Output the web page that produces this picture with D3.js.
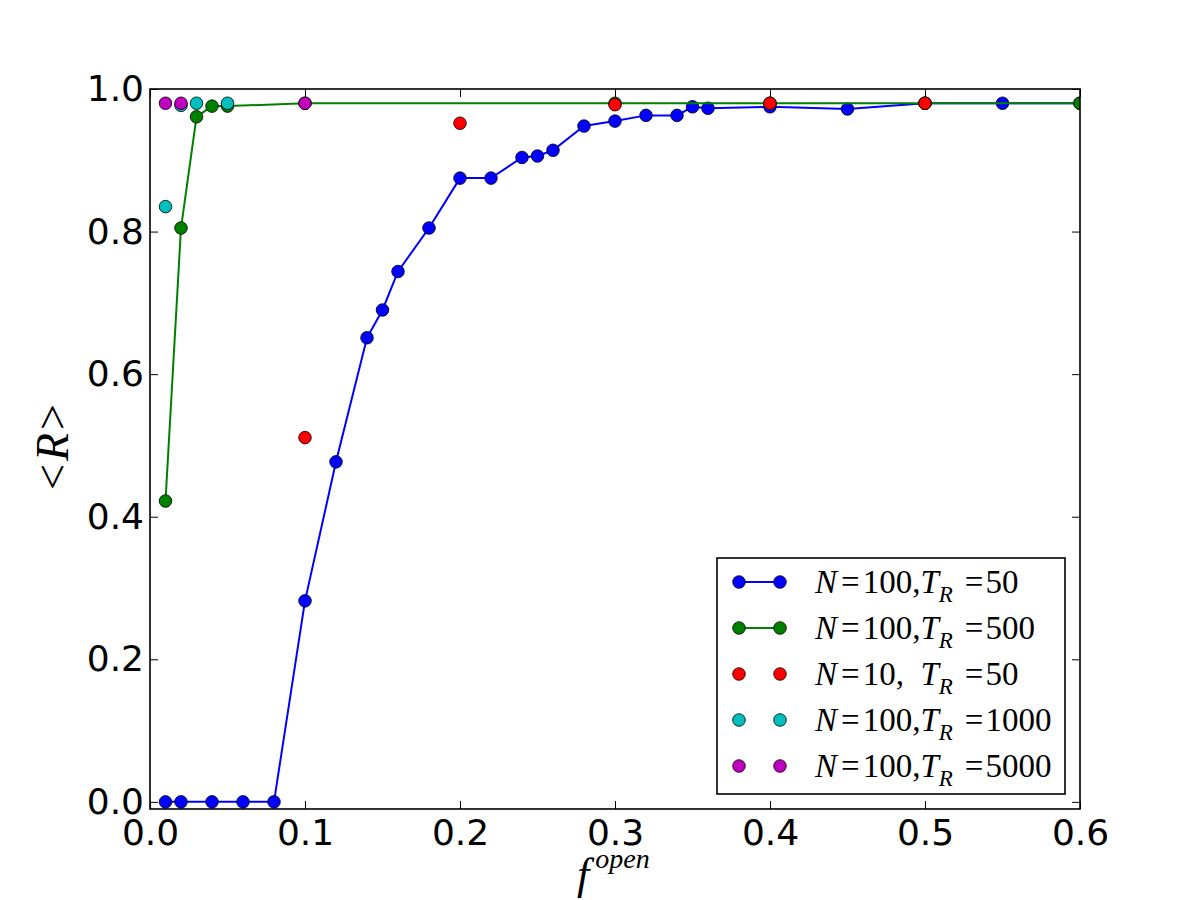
<!DOCTYPE html>
<html>
<head>
<meta charset="utf-8">
<script src="https://cdn.jsdelivr.net/npm/d3@7"></script>
<style>
  body { margin: 0; background: #fff; }
  svg { display: block; }
  .tick-label { font-family: "DejaVu Sans", sans-serif; font-size: 36px; fill: #000; }
  .math { font-family: "Liberation Serif", "DejaVu Serif", serif; fill: #000; }
</style>
</head>
<body>
<div id="chart"></div>
<script>
// values
const blueX = [0.01, 0.02, 0.04, 0.06, 0.08, 0.10, 0.12, 0.14, 0.15, 0.16, 0.18, 0.20, 0.22, 0.24, 0.25, 0.26, 0.28, 0.30, 0.32, 0.34, 0.35, 0.36, 0.40, 0.45, 0.50, 0.55, 0.60];
const blueY = [0.0, 0.0, 0.0, 0.0, 0.0, 0.282, 0.477, 0.651, 0.690, 0.744, 0.805, 0.875, 0.875, 0.904, 0.906, 0.914, 0.948, 0.955, 0.963, 0.963, 0.975, 0.973, 0.975, 0.972, 0.980, 0.980, 0.980];

const greenX = [0.01, 0.02, 0.03, 0.04, 0.05, 0.10, 0.30, 0.40, 0.50, 0.60];
const greenY = [0.422, 0.805, 0.961, 0.976, 0.976, 0.980, 0.980, 0.980, 0.980, 0.980];

const redX = [0.10, 0.20, 0.30, 0.40, 0.50];
const redY = [0.511, 0.952, 0.978, 0.980, 0.980];

const cyanX = [0.01, 0.02, 0.03, 0.05];
const cyanY = [0.835, 0.977, 0.980, 0.980];

const magentaX = [0.01, 0.02, 0.10];
const magentaY = [0.980, 0.980, 0.980];

const xTicks = [0.0, 0.1, 0.2, 0.3, 0.4, 0.5, 0.6];
const yTicks = [0.0, 0.2, 0.4, 0.6, 0.8, 1.0];

// legend text pieces: N value and T_R value per series
const series = [
  {x: blueX, y: blueY, color: "#0000ff", line: true, n: "100,", t: "50"},
  {x: greenX, y: greenY, color: "#008000", line: true, n: "100,", t: "500"},
  {x: redX, y: redY, color: "#ff0000", line: false, n: "10,\u00a0\u00a0", t: "50"},
  {x: cyanX, y: cyanY, color: "#00bfbf", line: false, n: "100,", t: "1000"},
  {x: magentaX, y: magentaY, color: "#bf00bf", line: false, n: "100,", t: "5000"}
];

const margin = {top: 89, right: 120, bottom: 91, left: 150},
    width = 1200 - margin.left - margin.right,
    height = 900 - margin.top - margin.bottom;

const root = d3.select("#chart")
  .append("svg")
    .attr("width", 1200)
    .attr("height", 900);

const svg = root.append("g")
    .attr("transform", `translate(${margin.left}, ${margin.top})`);

const x = d3.scaleLinear().domain([0, 0.6]).range([0, width]);
const y = d3.scaleLinear().domain([-0.01, 1.0]).range([height, 0]);

svg.append("clipPath").attr("id", "plotclip")
  .append("rect").attr("width", width).attr("height", height);

// ticks inside, on all four sides
const tickLen = 8;
const fmt = d3.format(".1f");

svg.append("g")
    .attr("transform", `translate(0,${height})`)
    .call(d3.axisBottom(x).tickValues(xTicks).tickSizeInner(-tickLen).tickSizeOuter(0).tickPadding(10).tickFormat(fmt))
    .call(g => g.select(".domain").remove())
    .call(g => g.selectAll("text").attr("class", "tick-label").attr("font-size", null).attr("font-family", null));

svg.append("g")
    .call(d3.axisTop(x).tickValues(xTicks).tickSizeInner(-tickLen).tickSizeOuter(0).tickFormat(""))
    .call(g => g.select(".domain").remove());

svg.append("g")
    .call(d3.axisLeft(y).tickValues(yTicks).tickSizeInner(-tickLen).tickSizeOuter(0).tickPadding(6).tickFormat(fmt))
    .call(g => g.select(".domain").remove())
    .call(g => g.selectAll("text").attr("class", "tick-label").attr("font-size", null).attr("font-family", null));

svg.append("g")
    .attr("transform", `translate(${width},0)`)
    .call(d3.axisRight(y).tickValues(yTicks).tickSizeInner(-tickLen).tickSizeOuter(0).tickFormat(""))
    .call(g => g.select(".domain").remove());

svg.selectAll(".tick line").attr("stroke", "#000").attr("stroke-width", 1);

// series
const plot = svg.append("g").attr("clip-path", "url(#plotclip)");

series.forEach(s => {
  const pts = s.x.map((v, i) => [v, s.y[i]]);
  if (s.line) {
    plot.append("path")
      .datum(pts)
      .attr("fill", "none")
      .attr("stroke", s.color)
      .attr("stroke-width", 2)
      .attr("d", d3.line().x(d => x(d[0])).y(d => y(d[1])));
  }
  plot.append("g")
    .selectAll("circle")
    .data(pts)
    .enter()
    .append("circle")
      .attr("cx", d => x(d[0]))
      .attr("cy", d => y(d[1]))
      .attr("r", 6.3)
      .attr("fill", s.color)
      .attr("stroke", "#000")
      .attr("stroke-width", 0.8);
});

// frame
svg.append("rect")
    .attr("width", width)
    .attr("height", height)
    .attr("fill", "none")
    .attr("stroke", "#000")
    .attr("stroke-width", 1.6);

// legend
const legend = svg.append("g").attr("transform", `translate(${717 - margin.left},${558 - margin.top})`);
legend.append("rect")
    .attr("width", 348)
    .attr("height", 236)
    .attr("fill", "#fff")
    .attr("stroke", "#000")
    .attr("stroke-width", 1.6);

series.forEach((s, i) => {
  const ly = 24 + i * 46;
  const row = legend.append("g").attr("transform", `translate(0,${ly})`);
  if (s.line) {
    row.append("line").attr("x1", 22).attr("x2", 63).attr("y1", 0).attr("y2", 0)
      .attr("stroke", s.color).attr("stroke-width", 2);
  }
  [22, 63].forEach(cx => row.append("circle")
    .attr("cx", cx).attr("cy", 0).attr("r", 6.3)
    .attr("fill", s.color).attr("stroke", "#000").attr("stroke-width", 0.8));
  const t = row.append("text").attr("class", "math").attr("x", 98).attr("y", 11).attr("font-size", 33);
  t.append("tspan").attr("font-style", "italic").text("N");
  t.append("tspan").attr("dx", 4).text("=");
  t.append("tspan").attr("dx", 3).text(s.n);
  t.append("tspan").attr("font-style", "italic").text("T");
  t.append("tspan").attr("font-style", "italic").attr("font-size", 23).attr("dy", 9).text("R");
  t.append("tspan").attr("dx", 12).attr("dy", -9).text("=");
  t.append("tspan").attr("dx", 2).text(s.t);
});

// axis labels
const xl = root.append("text").attr("class", "math")
    .attr("x", 577).attr("y", 889).attr("font-size", 44);
xl.append("tspan").attr("font-style", "italic").text("f");
xl.append("tspan").attr("font-style", "italic").attr("font-size", 28).attr("dx", 6).attr("dy", -21).text("open");

const yl = root.append("text").attr("class", "math")
    .attr("transform", "translate(68,447) rotate(-90)")
    .attr("text-anchor", "middle")
    .attr("font-size", 46);
yl.append("tspan").text("<");
yl.append("tspan").attr("font-style", "italic").attr("dx", 3).text("R");
yl.append("tspan").attr("dx", 3).text(">");
</script>
</body>
</html>
